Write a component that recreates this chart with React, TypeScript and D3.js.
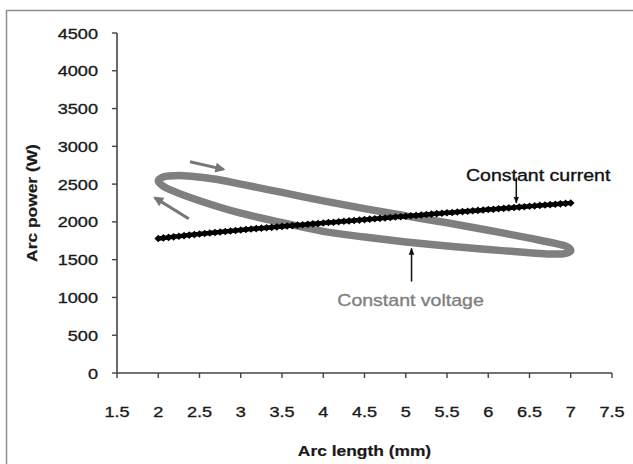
import React from "react";
import * as d3 from "d3";

// Arc power versus arc length for two power-source modes.
const X_TICKS = [1.5, 2, 2.5, 3, 3.5, 4, 4.5, 5, 5.5, 6, 6.5, 7, 7.5];
const Y_TICKS = [0, 500, 1000, 1500, 2000, 2500, 3000, 3500, 4000, 4500];

// Constant current: arc length (mm) and arc power (W)
const CC_ARC = [
  2.0, 2.0625, 2.125, 2.1875, 2.25, 2.3125, 2.375, 2.4375,
  2.5, 2.5625, 2.625, 2.6875, 2.75, 2.8125, 2.875, 2.9375,
  3.0, 3.0625, 3.125, 3.1875, 3.25, 3.3125, 3.375, 3.4375,
  3.5, 3.5625, 3.625, 3.6875, 3.75, 3.8125, 3.875, 3.9375,
  4.0, 4.0625, 4.125, 4.1875, 4.25, 4.3125, 4.375, 4.4375,
  4.5, 4.5625, 4.625, 4.6875, 4.75, 4.8125, 4.875, 4.9375,
  5.0, 5.0625, 5.125, 5.1875, 5.25, 5.3125, 5.375, 5.4375,
  5.5, 5.5625, 5.625, 5.6875, 5.75, 5.8125, 5.875, 5.9375,
  6.0, 6.0625, 6.125, 6.1875, 6.25, 6.3125, 6.375, 6.4375,
  6.5, 6.5625, 6.625, 6.6875, 6.75, 6.8125, 6.875, 6.9375,
  7.0,
];
const CC_POWER = [
  1780, 1788, 1795, 1802, 1810, 1818, 1825, 1832,
  1840, 1847, 1853, 1860, 1866, 1873, 1880, 1886,
  1893, 1899, 1905, 1911, 1917, 1922, 1928, 1934,
  1940, 1946, 1951, 1957, 1962, 1968, 1974, 1979,
  1985, 1991, 1996, 2002, 2008, 2013, 2019, 2024,
  2030, 2036, 2041, 2047, 2052, 2058, 2064, 2069,
  2075, 2081, 2086, 2092, 2098, 2103, 2109, 2114,
  2120, 2125, 2131, 2136, 2141, 2147, 2152, 2158,
  2163, 2168, 2174, 2179, 2185, 2190, 2196, 2201,
  2207, 2212, 2218, 2223, 2228, 2234, 2239, 2245,
  2250,
];

// Constant voltage: closed hysteresis loop (upper branch left→right, lower branch right→left)
const CV_ARC = [
  2.0, 2.06, 2.2, 2.4, 2.7, 3.0, 3.5, 4.0, 4.5, 5.0, 5.5, 6.0, 6.5, 6.8, 6.96,
  7.0, 6.94, 6.75, 6.5, 6.0, 5.5, 5.0, 4.5, 4.0, 3.5, 3.0, 2.5, 2.2, 2.05,
];
const CV_POWER = [
  2545, 2595, 2612, 2605, 2565, 2500, 2390, 2278, 2175, 2080, 1988, 1890, 1785, 1718, 1670,
  1620, 1583, 1575, 1592, 1635, 1680, 1735, 1800, 1875, 1990, 2115, 2280, 2400, 2480,
];

const W = 633;
const H = 464;
const FONT = "'Liberation Sans', Arial, Helvetica, sans-serif";
const GREY = "#7f7f7f";

const x = d3.scaleLinear().domain([1.5, 7.5]).range([117, 612]);
const y = d3.scaleLinear().domain([0, 4500]).range([373, 33]);

function Stretched({
  px, py, sx = 1.17, rotate = 0, anchor = "start", size = 15.5, weight = "normal", fill = "#1a1a1a", heavy = 0.35, children,
}: any) {
  const tf = `translate(${px},${py})${rotate ? ` rotate(${rotate})` : ""} scale(${sx},1)`;
  return (
    <text
      transform={tf}
      textAnchor={anchor}
      fontFamily={FONT}
      fontSize={size}
      fontWeight={weight}
      fill={fill}
      stroke={fill}
      strokeWidth={heavy}
    >
      {children}
    </text>
  );
}

export default function App() {
  const ccLine = d3.line<number>().x((_, i) => x(CC_ARC[i])).y((d) => y(d));
  const cvLoop = d3
    .line<number>()
    .x((_, i) => x(CV_ARC[i]))
    .y((d) => y(d))
    .curve(d3.curveCatmullRomClosed.alpha(0.5));

  const r = 3.8;
  const diamond = (cx: number, cy: number) =>
    `M${cx},${cy - r}L${cx + r},${cy}L${cx},${cy + r}L${cx - r},${cy}Z`;

  const fmt = (v: number) => String(v);

  return (
    <svg width={W} height={H} style={{ position: "absolute", left: 0, top: 0, background: "#fff" }}>
      <defs>
        <marker id="headBlack" viewBox="0 0 10 10" refX="9" refY="5" markerWidth="7" markerHeight="7" orient="auto" markerUnits="userSpaceOnUse">
          <path d="M0,1 L10,5 L0,9 Z" fill="#111" />
        </marker>
        <marker id="headGrey" viewBox="0 0 10 10" refX="8" refY="5" markerWidth="11" markerHeight="10" orient="auto" markerUnits="userSpaceOnUse">
          <path d="M0,0 L10,5 L0,10 Z" fill="#777" />
        </marker>
      </defs>

      {/* chart frame */}
      <path d={`M6.5,${H + 2} L6.5,10.5 L${W + 2},10.5`} fill="none" stroke="#8c8c8c" strokeWidth={1.5} />

      {/* axes */}
      <line x1={x(1.5)} x2={x(7.5)} y1={y(0)} y2={y(0)} stroke="#444" strokeWidth={1.6} />
      <line x1={x(1.5)} x2={x(1.5)} y1={y(0)} y2={y(4500)} stroke="#444" strokeWidth={1.6} />
      {X_TICKS.map((t) => (
        <g key={"xt" + t}>
          <line x1={x(t)} x2={x(t)} y1={y(0)} y2={y(0) + 5} stroke="#444" strokeWidth={1.4} />
          <Stretched px={x(t)} py={417} anchor="middle">{fmt(t)}</Stretched>
        </g>
      ))}
      {Y_TICKS.map((t) => (
        <g key={"yt" + t}>
          <line x1={x(1.5) - 5} x2={x(1.5)} y1={y(t)} y2={y(t)} stroke="#444" strokeWidth={1.4} />
          <Stretched px={98} py={y(t) + 5.5} anchor="end">{fmt(t)}</Stretched>
        </g>
      ))}

      {/* axis titles */}
      <Stretched px={x(4.5)} py={456} anchor="middle" size={14.5} weight="bold" sx={1.2} heavy={0.2}>
        Arc length (mm)
      </Stretched>
      <Stretched px={36.5} py={(y(0) + y(4500)) / 2} rotate={-90} anchor="middle" size={14.5} weight="bold" sx={1.2} heavy={0.2}>
        Arc power (W)
      </Stretched>

      {/* constant voltage loop */}
      <path d={cvLoop(CV_POWER) || ""} fill="none" stroke={GREY} strokeWidth={7.5} strokeLinejoin="round" />

      {/* constant current line with diamond markers */}
      <path d={ccLine(CC_POWER) || ""} fill="none" stroke="#000" strokeWidth={4.5} strokeLinecap="round" />
      {CC_POWER.map((p, i) => (
        <path key={"cc" + i} d={diamond(x(CC_ARC[i]), y(p))} fill="#000" />
      ))}

      {/* direction arrows on the loop */}
      <line x1={x(2.385)} y1={y(2797)} x2={x(2.79)} y2={y(2695)} stroke="#777" strokeWidth={3} markerEnd="url(#headGrey)" />
      <line x1={x(2.37)} y1={y(2042)} x2={x(1.96)} y2={y(2318)} stroke="#777" strokeWidth={3} markerEnd="url(#headGrey)" />

      {/* annotations */}
      <Stretched px={x(5.73)} py={181} size={17} sx={1.15} fill="#111">Constant current</Stretched>
      <line x1={x(6.34)} y1={y(2585)} x2={x(6.34)} y2={y(2252)} stroke="#111" strokeWidth={1.5} markerEnd="url(#headBlack)" />

      <Stretched px={x(4.17)} py={306} size={17} sx={1.15} fill={GREY}>Constant voltage</Stretched>
      <line x1={x(5.07)} y1={y(1210)} x2={x(5.07)} y2={y(1650)} stroke="#111" strokeWidth={1.5} markerEnd="url(#headBlack)" />
    </svg>
  );
}
